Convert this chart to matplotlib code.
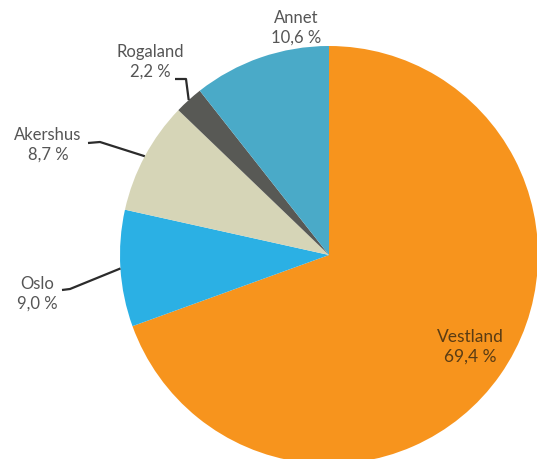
import numpy as np
import matplotlib.pyplot as plt

regions = ['Vestland', 'Oslo', 'Akershus', 'Rogaland', 'Annet']
shares = [69.4, 9.0, 8.7, 2.2, 10.6]
colors = ['#F7941D', '#2BB0E4', '#D6D5B7', '#585955', '#4AAAC8']

W, H = 537, 459
fig = plt.figure(figsize=(W / 100, H / 100), dpi=100)
ax = fig.add_axes([0, 0, 1, 1])

cx, cy, r = 329, H - 255, 209
wedges, _ = ax.pie(shares, colors=colors, startangle=90, counterclock=False,
                   center=(cx, cy), radius=r, frame=True,
                   wedgeprops=dict(linewidth=0))
ax.set_xlim(0, W)
ax.set_ylim(0, H)
ax.axis('off')

def lbl(v):
    return ('%.1f %%' % v).replace('.', ',')

# label text position (pixels from top-left) and elbow start/end for leader lines
label_pos = {
    'Annet': (296, 28, None),
    'Rogaland': (150, 62, [(175, 79), (186, 79)]),
    'Akershus': (48, 145, [(88, 143), (100, 142)]),
    'Oslo': (37, 294, [(62, 290), (70, 289)]),
}

for w, name, val in zip(wedges, regions, shares):
    if name == 'Vestland':
        ax.text(470, H - 347, name + '\n' + lbl(val), ha='center', va='center',
                fontsize=12.5, color='#5a3c14', family='Lato', linespacing=1.25)
        continue
    tx, ty, elbow = label_pos[name]
    ax.text(tx, H - ty, name + '\n' + lbl(val), ha='center', va='center',
            fontsize=12, color='#555555', family='Lato', linespacing=1.25)
    if elbow:
        mid = np.deg2rad((w.theta1 + w.theta2) / 2)
        ex, ey = cx + r * np.cos(mid), cy + r * np.sin(mid)
        xs = [p[0] for p in elbow] + [ex]
        ys = [H - p[1] for p in elbow] + [ey]
        ax.plot(xs, ys, color='#2b2b2b', lw=1.6, solid_capstyle='butt')

fig.savefig('out.png', dpi=100)
